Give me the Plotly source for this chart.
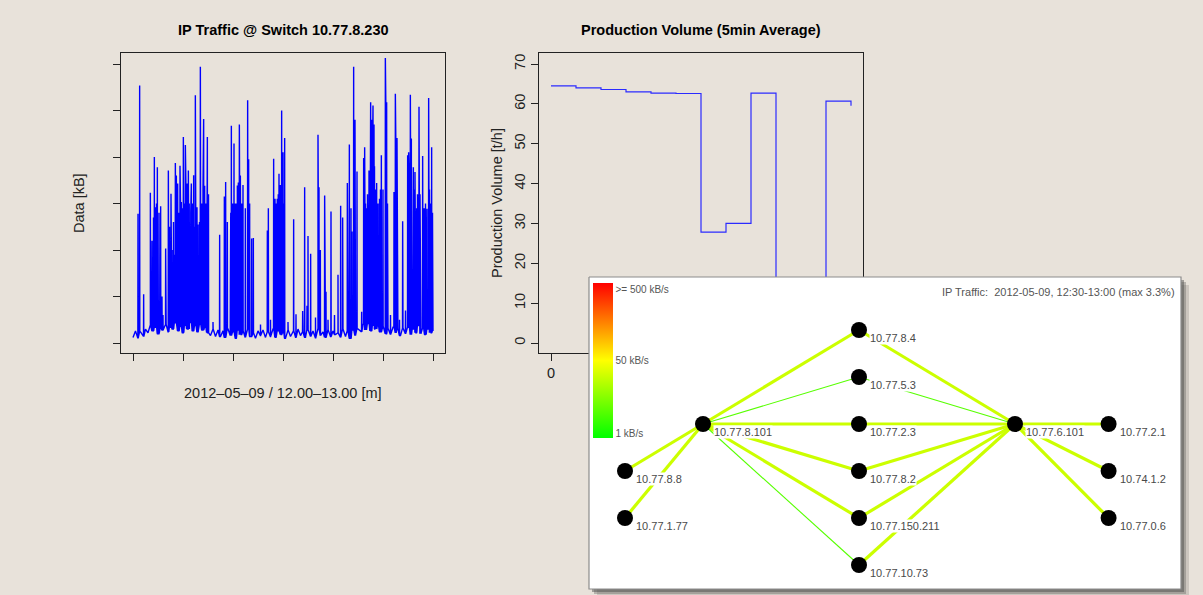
import plotly.graph_objects as go
from plotly.colors import sample_colorscale

W, H = 1203, 595
BG = '#e8e2da'
FONT = 'Liberation Sans, Arial, Helvetica, sans-serif'
INK = '#222222'

# ---------------- IP traffic (left) ----------------
traffic_xticks = [0, 10, 20, 30, 40, 50, 60]
traffic_yticks = [0, 100, 200, 300, 400, 500, 600]
# background level, one value every 0.5 min (0 .. 60)
traffic_base = [
    12, 26, 10, 24, 14, 30, 22, 38, 26, 34,
    20, 36, 28, 40, 24, 34, 30, 42, 26, 36,
    22, 38, 30, 44, 26, 36, 24, 40, 28, 34,
    22, 16, 30, 14, 28, 14, 26, 12, 30, 16,
    24, 10, 28, 18, 26, 12, 30, 14, 22, 10,
    26, 16, 28, 12, 24, 14, 30, 12, 26, 18,
    22, 10, 28, 14, 26, 12, 30, 16, 24, 12,
    28, 14, 26, 10, 30, 16, 24, 12, 28, 14,
    26, 18, 22, 12, 30, 14, 26, 10, 28, 16,
    30, 24, 40, 28, 42, 26, 38, 30, 44, 24,
    36, 20, 32, 18, 34, 22, 30, 16, 32, 20,
    34, 18, 30, 22, 36, 20, 32, 18, 30, 22,
    26,
]
# (minute, kB) bursts
traffic_peaks = [
    (1.0, 278), (1.33, 554), (2.13, 105), (3.47, 323), (3.5, 173), (4.27, 400), (4.53, 292),
    (4.87, 378), (5.53, 294), (6.53, 203), (6.6, 200), (7.07, 371), (7.13, 370), (7.6, 321),
    (8.27, 190), (8.47, 387), (8.67, 360), (8.93, 343), (9.4, 381), (9.6, 302), (9.67, 303),
    (10.07, 443), (10.13, 443), (10.47, 426), (10.6, 330), (10.87, 343), (11.07, 371),
    (11.4, 183), (11.67, 343), (12.13, 361), (12.47, 533), (12.8, 292), (13.0, 255),
    (13.47, 594), (13.53, 420), (14.13, 482), (14.33, 338), (14.87, 443), (15.1, 320),
    (17.33, 233), (18.27, 315), (18.53, 346), (18.87, 260), (19.47, 110), (19.67, 467),
    (19.93, 300), (20.2, 429), (20.47, 300), (20.87, 339), (21.07, 345), (21.27, 470),
    (21.47, 360), (21.73, 300), (22.0, 340), (22.47, 290), (22.93, 522), (23.13, 395),
    (23.33, 300), (23.73, 225), (24.07, 226), (26.87, 242), (27.07, 290), (28.13, 396),
    (28.4, 310), (29.2, 364), (29.47, 340), (29.73, 500), (30.0, 410), (30.33, 441),
    (32.13, 266), (32.6, 62), (33.93, 69), (34.33, 335), (34.8, 80), (35.0, 230),
    (35.53, 192), (37.0, 448), (37.2, 335), (37.47, 200), (38.33, 317), (38.6, 110),
    (39.6, 283), (41.0, 147), (41.53, 295), (41.93, 270), (42.87, 344), (43.27, 427),
    (43.6, 290), (43.8, 240), (44.13, 594), (44.4, 480), (44.8, 369), (45.73, 67),
    (46.13, 398), (46.33, 421), (46.67, 290), (47.2, 371), (47.53, 518), (47.73, 480),
    (48.0, 511), (48.2, 470), (48.4, 290), (48.73, 344), (49.67, 404), (50.0, 330),
    (50.47, 613), (50.73, 518), (52.2, 325), (52.47, 536), (52.8, 441), (53.93, 262),
    (54.93, 404), (55.13, 410), (55.47, 534), (55.67, 440), (56.07, 378), (56.4, 368),
    (56.73, 290), (57.2, 508), (57.4, 320), (57.93, 402), (58.33, 290), (58.8, 289),
    (59.13, 527), (59.47, 290), (59.73, 421),
]
traffic_dense = [
    (3.8, 220), (4.1, 270), (4.7, 300), (5.2, 280), (5.8, 100), (7.3, 250), (7.8, 200),
    (8.1, 260), (9.2, 280), (9.5, 300), (9.85, 290), (10.3, 300), (10.75, 320), (11.25, 300),
    (11.55, 280), (11.85, 300), (12.3, 250), (12.6, 300), (13.3, 260), (13.75, 300),
    (14.0, 330), (14.55, 300), (14.75, 250), (19.55, 280), (20.05, 260), (20.65, 300),
    (21.15, 320), (21.6, 310), (28.6, 300), (28.85, 310), (29.05, 320), (29.6, 310),
    (29.9, 330), (30.15, 300), (46.5, 300), (46.9, 320), (47.4, 360), (47.9, 400),
    (48.3, 380), (48.55, 330), (49.0, 300), (49.3, 310), (49.5, 330), (50.6, 480),
    (50.9, 300), (52.6, 400), (52.95, 320), (55.25, 350), (55.8, 330), (55.95, 330),
    (56.25, 330), (56.55, 310), (56.9, 320), (57.05, 300), (57.55, 300), (58.1, 290),
    (58.5, 300), (59.3, 330), (59.6, 300), (59.9, 280),
]
traffic_small = [
    (6.0, 60), (16.0, 45), (25.5, 40), (27.5, 50), (31.0, 45), (36.5, 55), (39.0, 50),
    (40.3, 60), (51.5, 60), (53.3, 50), (54.5, 70), (58.6, 60),
]

# ---------------- production volume (right) ----------------
volume_t = [0, 5, 10, 15, 20, 25, 30, 35, 40, 45, 50, 55, 60]
volume_v = [64.5, 64.0, 63.6, 63.0, 62.7, 62.6, 27.8, 30.0, 62.7, 0, 0, 60.7, 59.5]
volume_xticks = [0, 10, 20, 30, 40, 50, 60]
volume_yticks = [0, 10, 20, 30, 40, 50, 60, 70]

# ---------------- network map ----------------
node_names = ['10.77.8.101', '10.77.8.4', '10.77.5.3', '10.77.2.3', '10.77.8.2',
              '10.77.150.211', '10.77.10.73', '10.77.6.101', '10.77.2.1', '10.74.1.2',
              '10.77.0.6', '10.77.8.8', '10.77.1.77']
node_col = [1, 3, 3, 3, 3, 3, 3, 5, 6.2, 6.2, 6.2, 0, 0]
node_row = [2, 0, 1, 2, 3, 4, 5, 2, 2, 3, 4, 3, 4]
edge_src = [0, 0, 0, 0, 0, 0, 0, 0, 7, 7, 7, 7, 7, 7, 7, 7, 7]
edge_dst = [11, 12, 1, 2, 3, 4, 5, 6, 1, 2, 3, 4, 5, 6, 8, 9, 10]
edge_load = [0.40, 0.40, 0.40, 0.17, 0.40, 0.40, 0.40, 0.17,
             0.40, 0.17, 0.40, 0.40, 0.40, 0.40, 0.40, 0.40, 0.40]
scale_ticks = [0.03, 0.5, 0.96]
scale_labels = ['1 kB/s', '50 kB/s', '>= 500 kB/s']
map_caption = 'IP Traffic:  2012-05-09, 12:30-13:00 (max 3.3%)'

LOAD_SCALE = [[0, '#00ff00'], [0.5, '#ffff00'], [1, '#ff0000']]


def xd(a, b):
    return [a / W, b / W]


def yd(top, bot):
    return [1 - bot / H, 1 - top / H]


fig = go.Figure()

# --- traffic series ---
pts = [(0.5 * i, v) for i, v in enumerate(traffic_base)]
for t, v in traffic_peaks + traffic_dense + traffic_small:
    foot = traffic_base[min(int(round(t / 0.5)), len(traffic_base) - 1)]
    pts += [(t - 0.03, foot), (t, v), (t + 0.03, foot)]
pts.sort()
fig.add_trace(go.Scatter(x=[p[0] for p in pts], y=[p[1] for p in pts], mode='lines',
                         line=dict(color='#0000ff', width=1.4), xaxis='x', yaxis='y',
                         hoverinfo='skip'))

# --- volume series ---
fig.add_trace(go.Scatter(x=volume_t, y=volume_v, mode='lines',
                         line=dict(color='#2b2bff', width=1.2, shape='hv'),
                         xaxis='x2', yaxis='y2', hoverinfo='skip'))

# --- network panel ---
UPX, RPX, OX, OY = 78.0, 47.0, 625.0, 330.0


def u_of(px):
    return (px - OX) / UPX


def r_of(py):
    return (py - OY) / RPX


pu0, pu1 = u_of(589), u_of(1181)
pr0, pr1 = r_of(277), r_of(589)


def rect(u0, u1, r0, r1):
    return [u0, u1, u1, u0, u0], [r0, r0, r1, r1, r0]


for off, col in [(8, 'rgba(120,115,110,0.25)'), (5, 'rgba(90,88,85,0.35)'), (3, 'rgba(70,70,70,0.45)')]:
    xs, ys = rect(pu0 + off / UPX, pu1 + off / UPX, pr0 + off / RPX, pr1 + off / RPX)
    fig.add_trace(go.Scatter(x=xs, y=ys, mode='lines', fill='toself', fillcolor=col,
                             line=dict(width=0), xaxis='x3', yaxis='y3', hoverinfo='skip'))
xs, ys = rect(pu0, pu1, pr0, pr1)
fig.add_trace(go.Scatter(x=xs, y=ys, mode='lines', fill='toself', fillcolor='#ffffff',
                         line=dict(width=1.2, color='#8c8c8c'), xaxis='x3', yaxis='y3',
                         hoverinfo='skip'))

edge_colors = sample_colorscale(LOAD_SCALE, edge_load)
for s, d, load, c in zip(edge_src, edge_dst, edge_load, edge_colors):
    fig.add_trace(go.Scatter(x=[node_col[s], node_col[d]], y=[node_row[s], node_row[d]],
                             mode='lines', line=dict(color=c, width=3.2 if load > 0.3 else 1.1),
                             xaxis='x3', yaxis='y3', hoverinfo='skip'))

fig.add_trace(go.Scatter(x=node_col, y=node_row, mode='markers',
                         marker=dict(color='#000000', size=16, line=dict(width=0)),
                         xaxis='x3', yaxis='y3', hoverinfo='skip'))

# colour scale legend
fig.add_trace(go.Scatter(
    x=node_col[:2], y=node_row[:2], mode='markers', xaxis='x3', yaxis='y3', hoverinfo='skip',
    marker=dict(size=1, opacity=0, color=[0, 1], cmin=0, cmax=1, colorscale=LOAD_SCALE,
                showscale=True,
                colorbar=dict(x=593 / W, xanchor='left', xpad=0, y=1 - 283 / H, yanchor='top',
                              ypad=0, len=155, lenmode='pixels', thickness=20,
                              thicknessmode='pixels', outlinewidth=0, ticks='',
                              tickvals=scale_ticks, ticktext=scale_labels,
                              tickfont=dict(family=FONT, size=10, color='#555555'),
                              bgcolor='rgba(0,0,0,0)'))))

annotations = []
for name, u, r in zip(node_names, node_col, node_row):
    annotations.append(dict(x=u + 0.13, y=r + 0.17, xref='x3', yref='y3', text=name,
                            showarrow=False, xanchor='left', yanchor='middle',
                            bgcolor='#ffffff', borderpad=0,
                            font=dict(family=FONT, size=11, color='#4a4a4a')))
annotations.append(dict(x=u_of(1177), y=r_of(292), xref='x3', yref='y3', text=map_caption,
                        showarrow=False, xanchor='right', yanchor='middle',
                        font=dict(family=FONT, size=11, color='#555555')))

# titles and axis labels of the two R-style plots
TXT = dict(xref='paper', yref='paper', showarrow=False, xanchor='center', yanchor='middle')
annotations += [
    dict(x=283 / W, y=1 - 30 / H, text='<b>IP Traffic @ Switch 10.77.8.230</b>',
         font=dict(family=FONT, size=14.5, color='#000'), **TXT),
    dict(x=701 / W, y=1 - 30 / H, text='<b>Production Volume (5min Average)</b>',
         font=dict(family=FONT, size=14.5, color='#000'), **TXT),
    dict(x=283 / W, y=1 - 393 / H, text='2012\u201305\u201309 / 12.00\u201313.00 [m]',
         font=dict(family=FONT, size=14.5, color=INK), **TXT),
    dict(x=79 / W, y=1 - 203 / H, textangle=-90, text='Data [kB]',
         font=dict(family=FONT, size=14.5, color=INK), **TXT),
    dict(x=497 / W, y=1 - 203 / H, textangle=-90, text='Production Volume [t/h]',
         font=dict(family=FONT, size=14.5, color=INK), **TXT),
]

axis_common = dict(showline=True, mirror=True, linecolor=INK, linewidth=1, ticks='outside',
                   ticklen=7, tickwidth=1, tickcolor=INK, showgrid=False, zeroline=False,
                   fixedrange=True, tickfont=dict(family=FONT, size=14.5, color=INK))

fig.update_layout(
    width=W, height=H, autosize=False, margin=dict(l=0, r=0, t=0, b=0),
    paper_bgcolor=BG, plot_bgcolor='rgba(0,0,0,0)', showlegend=False,
    font=dict(family=FONT, color=INK),
    xaxis=dict(domain=xd(121, 445), range=[-2.4, 62.4], tickvals=traffic_xticks,
               showticklabels=False, anchor='y', **axis_common),
    yaxis=dict(domain=yd(53, 353), range=[-21.5, 623.7], tickvals=traffic_yticks,
               showticklabels=False, anchor='x', **axis_common),
    xaxis2=dict(domain=xd(539, 863), range=[-2.4, 62.4], tickvals=volume_xticks,
                anchor='y2', **axis_common),
    yaxis2=dict(domain=yd(53, 353), range=[-2.51, 72.76], tickvals=volume_yticks,
                tickangle=-90, anchor='x2', **axis_common),
    xaxis3=dict(domain=xd(586, 1191), range=[u_of(586), u_of(1191)], visible=False,
                anchor='y3', fixedrange=True),
    yaxis3=dict(domain=yd(274, 595), range=[r_of(595), r_of(274)], visible=False,
                anchor='x3', fixedrange=True),
    annotations=annotations,
)

fig.write_html('out.html', config={'displayModeBar': False},
               post_script="document.body.style.margin='0';document.body.style.overflow='hidden';")
